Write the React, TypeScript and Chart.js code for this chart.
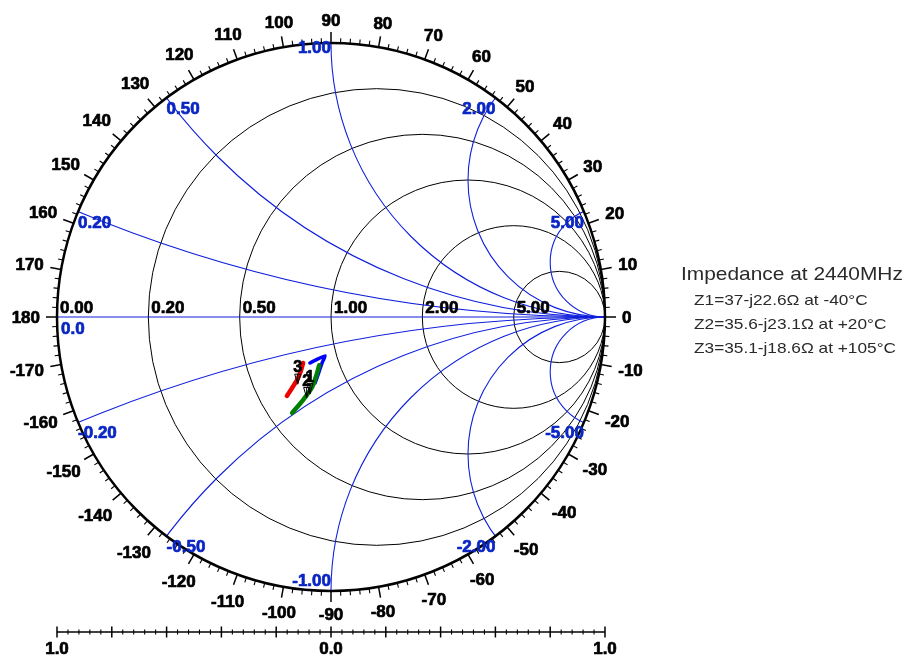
import React, { useEffect, useRef } from "react";
import { Chart, registerables } from "chart.js";

Chart.register(...registerables);

// ---------------- data ----------------
const Z0 = 50;
const frequencyLabel = "2440MHz";
const resistanceCircles = [0.2, 0.5, 1, 2, 5];
const reactanceCircles = [0.2, 0.5, 1, 2, 5];
const angleTickLabels = [
  0, 10, 20, 30, 40, 50, 60, 70, 80, 90, 100, 110, 120, 130, 140, 150, 160, 170, 180,
  -170, -160, -150, -140, -130, -120, -110, -100, -90, -80, -70, -60, -50, -40, -30, -20, -10,
];
const bottomScaleLabels = ["1.0", "0.0", "1.0"];

// marker impedances (ohms)
const markerNames = ["Z1", "Z2", "Z3"];
const markerR = [37, 35.6, 35.1];
const markerX = [-22.6, -23.1, -18.6];
const markerTemps = ["-40°C", "+20°C", "+105°C"];

// swept traces as reflection coefficient (real, imaginary)
const redRe = [-0.161, -0.142, -0.124, -0.11, -0.102];
const redIm = [-0.288, -0.259, -0.23, -0.197, -0.168];
const greenRe = [-0.142, -0.102, -0.069, -0.053, -0.043];
const greenIm = [-0.35, -0.303, -0.256, -0.212, -0.176];
const blueRe = [-0.058, -0.044, -0.031, -0.021, -0.047, -0.077];
const blueIm = [-0.241, -0.201, -0.164, -0.142, -0.153, -0.168];

// ---------------- helpers ----------------
const FONT = "'Liberation Sans', Arial, sans-serif";
const BLUE_LINE = "#1020dc";
const BLUE_TEXT = "#0a26c4";

function zToGamma(r: number, x: number) {
  const nr = r - 1, ni = x;
  const dr = r + 1, di = x;
  const den = dr * dr + di * di;
  return { re: (nr * dr + ni * di) / den, im: (ni * dr - nr * di) / den };
}

function fmt(v: number) {
  return v.toFixed(2);
}

function heavyText(ctx: CanvasRenderingContext2D, t: string, x: number, y: number, color: string) {
  ctx.fillStyle = color;
  ctx.strokeStyle = color;
  ctx.lineWidth = 0.7;
  ctx.lineJoin = "round";
  ctx.fillText(t, x, y);
  ctx.strokeText(t, x, y);
}

const smithPlugin = {
  id: "smithGrid",
  beforeDatasetsDraw(chart: any) {
    const ctx: CanvasRenderingContext2D = chart.ctx;
    const xs = chart.scales.x;
    const ys = chart.scales.y;
    const px = (g: number) => xs.getPixelForValue(g);
    const py = (g: number) => ys.getPixelForValue(g);
    const cx = px(0);
    const cy = py(0);
    const R = px(1) - cx;

    ctx.save();
    // resistance circles
    ctx.lineWidth = 1;
    ctx.strokeStyle = "#000";
    for (const r of resistanceCircles) {
      const c = r / (r + 1);
      const rad = 1 / (r + 1);
      ctx.beginPath();
      ctx.arc(px(c), cy, rad * R, 0, Math.PI * 2);
      ctx.stroke();
    }

    // reactance arcs (clipped)
    ctx.save();
    ctx.beginPath();
    ctx.arc(cx, cy, R, 0, Math.PI * 2);
    ctx.clip();
    ctx.strokeStyle = BLUE_LINE;
    ctx.lineWidth = 1.1;
    for (const x of reactanceCircles) {
      for (const s of [1, -1]) {
        ctx.beginPath();
        ctx.arc(px(1), py(s / x), R / x, 0, Math.PI * 2);
        ctx.stroke();
      }
    }
    ctx.beginPath();
    ctx.moveTo(px(-1), cy);
    ctx.lineTo(px(1), cy);
    ctx.stroke();
    ctx.restore();

    // outer circle
    ctx.strokeStyle = "#000";
    ctx.lineWidth = 2.5;
    ctx.beginPath();
    ctx.arc(cx, cy, R, 0, Math.PI * 2);
    ctx.stroke();

    // angle ticks
    for (let d = 0; d < 360; d += 2) {
      const major = d % 10 === 0;
      const len = major ? 11 : 5;
      const a = (d * Math.PI) / 180;
      ctx.lineWidth = major ? 1.5 : 1.1;
      ctx.beginPath();
      ctx.moveTo(cx + R * Math.cos(a), cy - R * Math.sin(a));
      ctx.lineTo(cx + (R + len) * Math.cos(a), cy - (R + len) * Math.sin(a));
      ctx.stroke();
    }

    // angle labels
    ctx.font = `bold 17px ${FONT}`;
    ctx.textAlign = "center";
    ctx.textBaseline = "middle";
    for (const lab of angleTickLabels) {
      const a = (lab * Math.PI) / 180;
      const t = String(lab);
      const w = ctx.measureText(t).width;
      const h = 12;
      const rr = R + 17 + (w / 2) * Math.abs(Math.cos(a)) + (h / 2) * Math.abs(Math.sin(a));
      heavyText(ctx, t, cx + rr * Math.cos(a), cy - rr * Math.sin(a) + 1, "#000");
    }

    // resistance labels
    ctx.font = `bold 17px ${FONT}`;
    ctx.textAlign = "left";
    ctx.textBaseline = "alphabetic";
    const rLabs = [0, ...resistanceCircles];
    for (const r of rLabs) {
      const left = px((r - 1) / (r + 1));
      heavyText(ctx, fmt(r), left + 3, cy - 4, "#000");
    }
    heavyText(ctx, "0.0", px(-1) + 4, cy + 17, BLUE_TEXT);

    // reactance labels
    for (const x of reactanceCircles) {
      for (const s of [1, -1]) {
        const xv = s * x;
        const gx = (xv * xv - 1) / (xv * xv + 1);
        const gy = (2 * xv) / (1 + xv * xv);
        const p = { x: px(gx), y: py(gy) };
        ctx.textAlign = gx < -1e-9 ? "left" : "right";
        let base = p.y + 16;
        if (xv === 1) base = p.y + 10;
        if (xv === -1) base = p.y - 5;
        heavyText(ctx, fmt(xv), p.x, base, BLUE_TEXT);
      }
    }

    // bottom linear scale
    const sy = 632;
    ctx.strokeStyle = "#000";
    ctx.lineWidth = 1.6;
    ctx.beginPath();
    ctx.moveTo(px(-1), sy);
    ctx.lineTo(px(1), sy);
    ctx.stroke();
    for (let i = 0; i <= 50; i++) {
      const g = -1 + i * 0.04;
      const major = i % 5 === 0;
      const hl = major ? 5.5 : 2.5;
      ctx.lineWidth = major ? 1.5 : 1.1;
      ctx.beginPath();
      ctx.moveTo(px(g), sy - hl);
      ctx.lineTo(px(g), sy + hl);
      ctx.stroke();
    }
    ctx.font = `bold 17px ${FONT}`;
    ctx.textAlign = "center";
    ctx.textBaseline = "alphabetic";
    bottomScaleLabels.forEach((t, i) => {
      const g = -1 + i;
      heavyText(ctx, t, px(g), 654, "#000");
    });

    // impedance legend text
    ctx.fillStyle = "#2a2a2a";
    ctx.textAlign = "left";
    const drawScaled = (t: string, x: number, y: number, size: number, sx: number) => {
      ctx.save();
      ctx.font = `${size}px ${FONT}`;
      ctx.translate(x, y);
      ctx.scale(sx, 1);
      ctx.fillText(t, 0, 0);
      ctx.restore();
    };
    drawScaled(`Impedance at ${frequencyLabel}`, 681, 280, 19, 1.1);
    markerNames.forEach((n, i) => {
      const xv = markerX[i];
      const t = `${n}=${markerR[i]}${xv < 0 ? "-" : "+"}j${Math.abs(xv)}Ω at ${markerTemps[i]}`;
      drawScaled(t, 694, 305 + i * 24, 15, 1.15);
    });
    ctx.restore();
  },
  afterDatasetsDraw(chart: any) {
    const ctx: CanvasRenderingContext2D = chart.ctx;
    const xs = chart.scales.x;
    const ys = chart.scales.y;
    ctx.save();
    ctx.lineWidth = 1;
    ctx.font = `bold 16px ${FONT}`;
    ctx.textAlign = "center";
    ctx.textBaseline = "alphabetic";
    markerNames.forEach((n, i) => {
      const g = zToGamma(markerR[i] / Z0, markerX[i] / Z0);
      const x = xs.getPixelForValue(g.re);
      const y = ys.getPixelForValue(g.im);
      ctx.strokeStyle = "#000";
      ctx.lineWidth = 1;
      ctx.beginPath();
      ctx.moveTo(x, y);
      ctx.lineTo(x - 3, y - 10);
      ctx.lineTo(x + 3, y - 10);
      ctx.closePath();
      ctx.stroke();
      ctx.beginPath();
      ctx.moveTo(x, y);
      ctx.lineTo(x, y - 10);
      ctx.stroke();
      heavyText(ctx, String(i + 1), x, y - 12, "#000");
    });
    ctx.restore();
  },
};

function toPoints(re: number[], im: number[]) {
  return re.map((v, i) => ({ x: v, y: im[i] }));
}

export default function App() {
  const ref = useRef<HTMLCanvasElement | null>(null);
  useEffect(() => {
    if (!ref.current) return;
    const common = {
      showLine: true,
      pointRadius: 0,
      borderCapStyle: "round",
      borderJoinStyle: "round",
    };
    const chart = new Chart(ref.current, {
      type: "scatter",
      data: {
        datasets: [
          { ...common, label: "+105°C", data: toPoints(redRe, redIm), borderColor: "#ee0000", borderWidth: 4.5, tension: 0.2 },
          { ...common, label: "+20°C", data: toPoints(greenRe, greenIm), borderColor: "#008000", borderWidth: 4.5, tension: 0.2 },
          { ...common, label: "-40°C", data: toPoints(blueRe, blueIm), borderColor: "#0000ff", borderWidth: 3.5, tension: 0.1 },
        ],
      },
      options: {
        responsive: false,
        animation: false,
        layout: { padding: { left: 57, right: 305, top: 43, bottom: 67 } },
        scales: {
          x: { type: "linear", min: -1, max: 1, display: false },
          y: { type: "linear", min: -1, max: 1, display: false },
        },
        plugins: { legend: { display: false }, tooltip: { enabled: false } },
      },
      plugins: [smithPlugin],
    } as any);
    return () => chart.destroy();
  }, []);
  return (
    <div style={{ position: "absolute", left: 0, top: 0, width: 910, height: 658, background: "#fff" }}>
      <canvas ref={ref} width={910} height={658} style={{ display: "block" }} />
    </div>
  );
}
